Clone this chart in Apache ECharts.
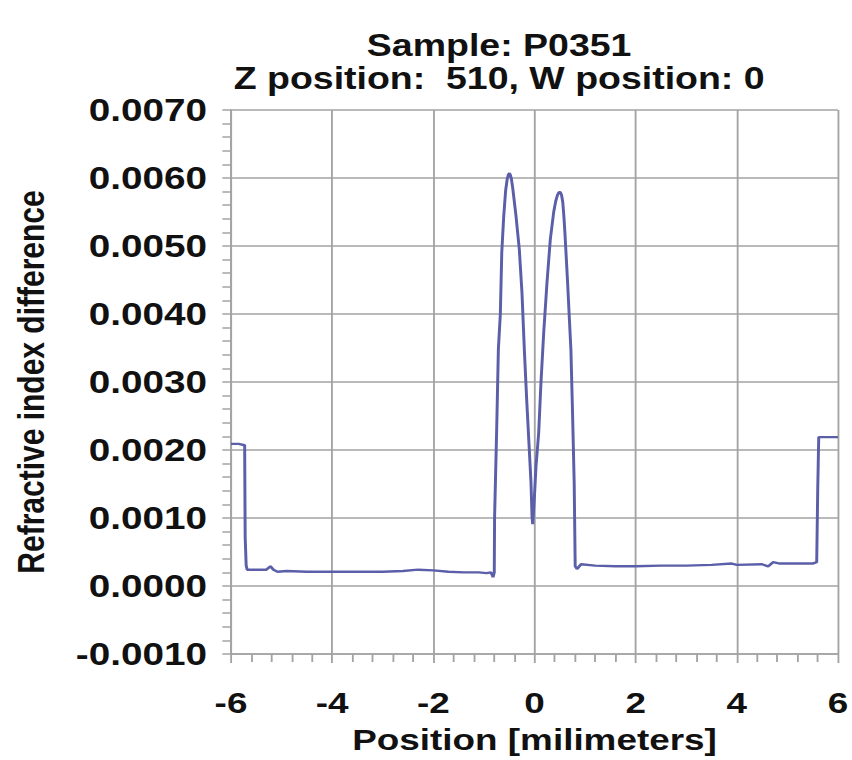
<!DOCTYPE html>
<html>
<head>
<meta charset="utf-8">
<script src="https://cdn.jsdelivr.net/npm/echarts@6/dist/echarts.min.js"></script>
<style>
  html, body { margin: 0; padding: 0; background: #ffffff; }
  #wrap { width: 852px; height: 760px; overflow: hidden; }
  #chart { width: 693px; height: 760px; transform: scaleX(1.2294); transform-origin: 0 0; }
</style>
</head>
<body>
<div id="wrap"><div id="chart"></div></div>
<script>
// Chart text
const titleLines = ['Sample: P0351', 'Z position:  510, W position: 0'];
const xAxisTitle = 'Position [milimeters]';
const yAxisTitle = 'Refractive index difference';

// Position along the sample [mm]
const positionMm = [
  -6.00, -5.85, -5.73, -5.72, -5.70, -5.68, -5.45, -5.30, -5.22, -5.16,
  -5.08, -4.90, -4.50, -4.00, -3.50, -3.00, -2.60, -2.30, -2.00, -1.70,
  -1.40, -1.10, -0.95, -0.86, -0.82, -0.795, -0.789,
  -0.746, -0.714, -0.675, -0.647, -0.608, -0.570, -0.540, -0.515, -0.495,
  -0.475, -0.455, -0.430, -0.365,
  -0.300, -0.247, -0.201, -0.154, -0.103, -0.069, -0.049, -0.036, -0.004,
  0.030, 0.083, 0.128, 0.182, 0.247, 0.312, 0.380, 0.420, 0.455, 0.485,
  0.510, 0.535, 0.560, 0.580,
  0.602, 0.655, 0.687, 0.720, 0.754, 0.785, 0.805, 0.840, 0.920,
  1.20, 1.60, 2.00, 2.50, 3.00, 3.50, 3.90, 4.00, 4.50, 4.62,
  4.72, 4.85, 5.20, 5.50, 5.58, 5.60, 5.62, 6.00
];

// Refractive index difference
const refIndexDiff = [
  0.00209, 0.00209, 0.00207, 0.00072, 0.00030, 0.00024, 0.00024, 0.00024, 0.00029, 0.00024,
  0.00021, 0.00022, 0.00021, 0.00021, 0.00021, 0.00021, 0.00022, 0.00024, 0.00023, 0.00021,
  0.00020, 0.00020, 0.00019, 0.00020, 0.00013, 0.00020, 0.00100,
  0.00235, 0.00348, 0.00400, 0.00490, 0.00544, 0.00582, 0.00598, 0.00605, 0.00607,
  0.00604, 0.00598, 0.00585, 0.00544,
  0.00495, 0.00431, 0.00348, 0.00274, 0.00201, 0.00152, 0.00103, 0.00091, 0.00127,
  0.00176, 0.00225, 0.00299, 0.00372, 0.00446, 0.00509, 0.00550, 0.00566, 0.00575, 0.00579,
  0.00579, 0.00575, 0.00564, 0.00545,
  0.00519, 0.00446, 0.00397, 0.00348, 0.00250, 0.00152, 0.00029, 0.00025, 0.00032,
  0.00030, 0.00029, 0.00029, 0.00030, 0.00030, 0.00031, 0.00033, 0.00031, 0.00032, 0.00029,
  0.00035, 0.00033, 0.00033, 0.00033, 0.00035, 0.00142, 0.00219, 0.00219
];

// Axis ranges / ticks
const xMin = -6, xMax = 6, xStep = 2;
const yMin = -0.001, yMax = 0.007, yStep = 0.001;

const seriesData = positionMm.map((x, i) => [x, refIndexDiff[i]]);

const FONT = '"Liberation Sans", Arial, sans-serif';
const GRID_COLOR = '#a3a3a3';

const chart = echarts.init(document.getElementById('chart'), null, { renderer: 'svg' });
chart.setOption({
  animation: false,
  backgroundColor: '#ffffff',
  title: {
    text: titleLines.join('\n'),
    left: 401,
    top: 24,
    textAlign: 'center',
    textStyle: { fontFamily: FONT, fontWeight: 'bold', fontSize: 30.5, lineHeight: 33, color: '#111' }
  },
  grid: { left: 187.9, right: 11.4, top: 110, bottom: 105, containLabel: false },
  xAxis: {
    type: 'value',
    min: xMin, max: xMax, interval: xStep,
    name: xAxisTitle,
    nameLocation: 'middle',
    nameGap: 71,
    nameTextStyle: { fontFamily: FONT, fontWeight: 'bold', fontSize: 30, color: '#111' },
    axisLine: { show: true, onZero: false, lineStyle: { color: GRID_COLOR, width: 1.5 } },
    axisTick: { show: true, inside: false, length: 9, lineStyle: { color: GRID_COLOR, width: 1.5 } },
    minorTick: { show: true, splitNumber: 5, length: 8, lineStyle: { color: GRID_COLOR, width: 1.5 } },
    axisLabel: { margin: 34, fontFamily: FONT, fontWeight: 'bold', fontSize: 30, color: '#111' },
    splitLine: { show: true, lineStyle: { color: GRID_COLOR, width: 1.5 } }
  },
  yAxis: {
    type: 'value',
    min: yMin, max: yMax, interval: yStep,
    name: yAxisTitle,
    nameLocation: 'middle',
    nameRotate: 90,
    nameGap: 147,
    nameTextStyle: { fontFamily: FONT, fontWeight: 'bold', fontSize: 30, color: '#111' },
    axisLine: { show: true, onZero: false, lineStyle: { color: GRID_COLOR, width: 1.5 } },
    axisTick: { show: true, inside: false, length: 7, lineStyle: { color: GRID_COLOR, width: 1.5 } },
    minorTick: { show: true, splitNumber: 5, length: 7, lineStyle: { color: GRID_COLOR, width: 1.5 } },
    axisLabel: {
      margin: 19.5, fontFamily: FONT, fontWeight: 'bold', fontSize: 31.5, color: '#111',
      formatter: v => v.toFixed(4)
    },
    splitLine: { show: true, lineStyle: { color: GRID_COLOR, width: 1.5 } }
  },
  series: [{
    type: 'line',
    data: seriesData,
    showSymbol: false,
    symbol: 'none',
    lineStyle: { color: '#5b5ea8', width: 2.4 },
    z: 5
  }]
});
</script>
</body>
</html>
